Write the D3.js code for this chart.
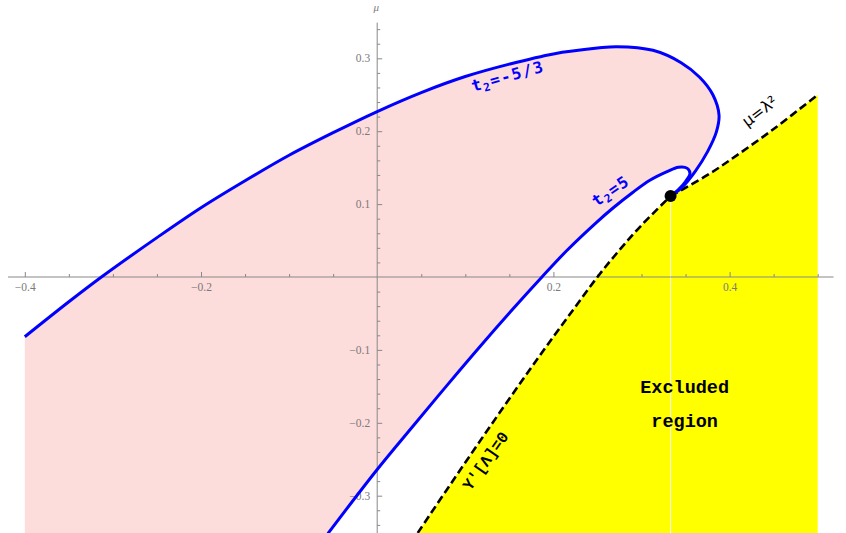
<!DOCTYPE html>
<html>
<head>
<meta charset="utf-8">
<script src="https://cdn.jsdelivr.net/npm/d3@7"></script>
<style>
  html, body { margin: 0; padding: 0; background: #fff; }
  svg { display: block; }
</style>
</head>
<body>
<div id="container"><div id="region"></div></div>
<script>
// Curve t2 = -5/3 (outer boundary)
const outerLam = [-0.400, -0.350, -0.313, -0.250, -0.200, -0.150, -0.100, -0.050, 0, 0.050, 0.100, 0.150, 0.200, 0.250, 0.272, 0.313, 0.345, 0.366, 0.381, 0.388, 0.385, 0.375, 0.361, 0.346, 0.333];
const outerMu  = [-0.082, -0.034, 0, 0.054, 0.095, 0.132, 0.167, 0.198, 0.227, 0.253, 0.275, 0.292, 0.306, 0.314, 0.316, 0.311, 0.294, 0.274, 0.250, 0.222, 0.199, 0.172, 0.145, 0.123, 0.111];

// Curve t2 = 5 (inner boundary), from the tangent point round the hook and down to the bottom
const innerLam = [0.333, 0.342, 0.350, 0.355, 0.352, 0.342, 0.329, 0.310, 0.290, 0.268, 0.249, 0.215, 0.187, 0.154, 0.117, 0.079, 0.041, 0, -0.056];
const innerMu  = [0.111, 0.120, 0.131, 0.142, 0.149, 0.1505, 0.1445, 0.133, 0.116, 0.095, 0.075, 0.036, 0, -0.044, -0.095, -0.149, -0.204, -0.264, -0.352];

// Y'[Lambda] = 0 (dashed, lower part)
const yPrimeLam = [0.046, 0.080, 0.115, 0.150, 0.185, 0.220, 0.250, 0.275, 0.300, 0.333];
const yPrimeMu  = [-0.351, -0.290, -0.228, -0.167, -0.107, -0.049, 0, 0.037, 0.071, 0.111];

// mu = lambda^2 (dashed, upper part)
const parabLam = [0.333, 0.375, 0.400, 0.450, 0.500];
const parabMu  = [0.111, 0.140, 0.160, 0.203, 0.250];

// Tangent point
const dotLam = 0.333;
const dotMu = 0.111;

// Ticks
const xMajor = [-0.4, -0.2, 0.2, 0.4];
const xMinor = [-0.35, -0.3, -0.25, -0.15, -0.1, -0.05, 0.05, 0.1, 0.15, 0.25, 0.3, 0.35, 0.45, 0.5];
const yMajor = [-0.3, -0.2, -0.1, 0.1, 0.2, 0.3];
const yMinor = [-0.34, -0.32, -0.28, -0.26, -0.24, -0.22, -0.18, -0.16, -0.14, -0.12, -0.08, -0.06, -0.04, -0.02,
                0.02, 0.04, 0.06, 0.08, 0.12, 0.14, 0.16, 0.18, 0.22, 0.24, 0.26, 0.28, 0.32, 0.34];

// Plot window and axis extents
const lamRange = [-0.4, 0.5];
const muRange = [-0.35, 0.35];
const muBottom = -0.352;
const xAxisExtent = [-0.419, 0.518];
const yAxisExtent = [-0.352, 0.349];

const w = 846;
const h = 533;

const xScale = d3.scaleLinear().domain(lamRange).range([24.8, 817.7]);
const yScale = d3.scaleLinear().domain(muRange).range([532.15, 21.85]);

const svg = d3.select('#region')
  .append('svg')
  .attr('width', w)
  .attr('height', h)
  .attr('viewBox', `0 0 ${w} ${h}`);

const zip = (a, b) => a.map((v, i) => [v, b[i]]);
const smooth = d3.line()
  .curve(d3.curveCatmullRom.alpha(0.5))
  .x(d => xScale(d[0]))
  .y(d => yScale(d[1]));

const outerPts = zip(outerLam, outerMu);
const innerPts = zip(innerLam, innerMu);
const yPrimePts = zip(yPrimeLam, yPrimeMu);
const parabPts = zip(parabLam, parabMu);

// Pink allowed region: outer curve, back along the inner curve, then the bottom edge
const pinkPath = smooth(outerPts)
  + smooth(innerPts).replace(/^M/, 'L')
  + `L${xScale(lamRange[0])},${yScale(muBottom)}Z`;

svg.append('path')
  .attr('d', pinkPath)
  .attr('fill', '#fddcdc');

// Yellow excluded region
const yellowPath = smooth(yPrimePts)
  + smooth(parabPts).replace(/^M/, 'L')
  + `L${xScale(lamRange[1])},${yScale(muBottom)}`
  + `L${xScale(yPrimeLam[0])},${yScale(muBottom)}Z`;

svg.append('path')
  .attr('d', yellowPath)
  .attr('fill', '#ffff00');

// thin seam below the tangent point
svg.append('line')
  .attr('x1', xScale(dotLam)).attr('x2', xScale(dotLam))
  .attr('y1', yScale(dotMu)).attr('y2', yScale(muBottom))
  .attr('stroke', '#fff')
  .attr('stroke-width', 1);

// Axes
const axisCol = '#888';
const labCol = '#7a7a7a';
const serif = '"Liberation Serif", "DejaVu Serif", serif';
const fmt = d => (d < 0 ? '\u2212' : '') + Math.abs(d).toFixed(1);

const xAxisG = svg.append('g')
  .attr('class', 'x-axis')
  .attr('transform', `translate(0, ${yScale(0)})`);

xAxisG.append('line')
  .attr('x1', xScale(xAxisExtent[0])).attr('x2', xScale(xAxisExtent[1]))
  .attr('stroke', axisCol);

xAxisG.append('g')
  .call(d3.axisBottom(xScale).tickValues(xMinor).tickSize(-3).tickFormat(''));

xAxisG.append('g')
  .call(d3.axisBottom(xScale).tickValues(xMajor).tickSize(-5).tickPadding(6).tickFormat(fmt));

const yAxisG = svg.append('g')
  .attr('class', 'y-axis')
  .attr('transform', `translate(${xScale(0)}, 0)`);

yAxisG.append('line')
  .attr('y1', yScale(yAxisExtent[0])).attr('y2', yScale(yAxisExtent[1]))
  .attr('stroke', axisCol);

yAxisG.append('g')
  .call(d3.axisLeft(yScale).tickValues(yMinor).tickSize(-3).tickFormat(''));

yAxisG.append('g')
  .call(d3.axisLeft(yScale).tickValues(yMajor).tickSize(-5).tickPadding(7).tickFormat(fmt));

svg.selectAll('.x-axis .domain, .y-axis .domain').remove();
svg.selectAll('.tick line').attr('stroke', axisCol);
svg.selectAll('.x-axis g, .y-axis g')
  .attr('font-family', serif)
  .attr('font-size', 11.5);
svg.selectAll('.tick text')
  .attr('fill', labCol)
  .style('font-family', serif)
  .style('font-size', '11.5px');

// axis name
svg.append('text')
  .attr('x', xScale(0) - 1)
  .attr('y', yScale(yAxisExtent[1]) - 12)
  .attr('text-anchor', 'middle')
  .attr('fill', labCol)
  .style('font-family', serif)
  .style('font-style', 'italic')
  .style('font-size', '11px')
  .text('\u03bc');

// Dashed boundaries
[yPrimePts, parabPts].forEach(pts => {
  svg.append('path')
    .attr('d', smooth(pts))
    .attr('fill', 'none')
    .attr('stroke', '#000')
    .attr('stroke-width', 2.6)
    .attr('stroke-dasharray', '8,4');
});

// Blue curves
[outerPts, innerPts].forEach(pts => {
  svg.append('path')
    .attr('d', smooth(pts))
    .attr('fill', 'none')
    .attr('stroke', '#0000ff')
    .attr('stroke-width', 3)
    .attr('stroke-linejoin', 'round');
});

svg.append('circle')
  .attr('cx', xScale(dotLam))
  .attr('cy', yScale(dotMu))
  .attr('r', 6)
  .attr('fill', '#000');

// Labels
const mono = '"Liberation Mono", "DejaVu Sans Mono", monospace';
const sansMono = '"DejaVu Sans Mono", monospace';

function rotLabel(lam, mu, angle, col, size, parts, font, weight, spacing) {
  const t = svg.append('text')
    .attr('transform', `translate(${xScale(lam)}, ${yScale(mu)}) rotate(${angle})`)
    .attr('fill', col)
    .style('font-family', font)
    .style('font-weight', weight)
    .style('font-size', size + 'px')
    .style('letter-spacing', (spacing || 0) + 'px');
  parts.forEach(p => {
    t.append('tspan')
      .style('font-size', (p.sub ? size * 0.7 : size) + 'px')
      .attr('dy', p.dy || 0)
      .text(p.s);
  });
}

rotLabel(0.109, 0.254, -16, '#0000ff', 16, [{ s: 't' }, { s: '2', sub: true, dy: 3 }, { s: '=-5/3', dy: -3 }], sansMono, 'bold', 1.5);
rotLabel(0.249, 0.096, -34, '#0000ff', 16, [{ s: 't' }, { s: '2', sub: true, dy: 3 }, { s: '=5', dy: -3 }], sansMono, 'bold', 1.5);
rotLabel(0.420, 0.205, -37, '#000', 16, [{ s: '\u03bc=\u03bb\u00b2' }], '"DejaVu Sans", sans-serif', 'normal', 0);
rotLabel(0.106, -0.294, -55, '#000', 16, [{ s: "Y'[\u039b]=0" }], mono, 'bold', 0);

svg.append('text')
  .attr('x', xScale(0.349)).attr('y', yScale(-0.159))
  .attr('text-anchor', 'middle')
  .style('font-family', mono).style('font-weight', 'bold').style('font-size', '18.5px')
  .text('Excluded');

svg.append('text')
  .attr('x', xScale(0.349)).attr('y', yScale(-0.206))
  .attr('text-anchor', 'middle')
  .style('font-family', mono).style('font-weight', 'bold').style('font-size', '18.5px')
  .text('region');
</script>
</body>
</html>
